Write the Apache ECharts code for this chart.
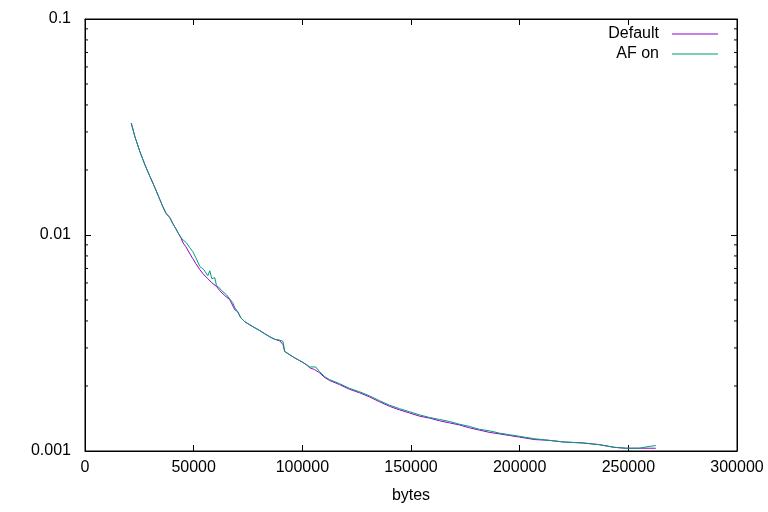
<!DOCTYPE html>
<html>
<head>
<meta charset="utf-8">
<script src="https://cdn.jsdelivr.net/npm/echarts@6/dist/echarts.min.js"></script>
<style>html,body{margin:0;padding:0;background:#fff}#c{width:768px;height:512px}</style>
</head>
<body>
<div id="c"></div>
<script>
// ---- data ----
const xTickLabels = ['0','50000','100000','150000','200000','250000','300000'];
const yTickLabels = ['0.001','0.01','0.1'];
const yMinorTicks = [0.002,0.003,0.004,0.005,0.006,0.007,0.008,0.009,0.02,0.03,0.04,0.05,0.06,0.07,0.08,0.09];

const afX = [21270,22970,25270,27560,29860,32160,34460,35830,37210,39050,40430,41810,42860,44560,46720,48240,49620,50990,52830,54670,56510,57430,58340,59720,60500,61560,62940,65100,66610,67990,68910,70290,71670,73500,75800,78100,80400,82690,84990,87290,89580,91100,91880,94180,96470,98770,100290,101990,103370,106120,107960,110260,112550,117150,121740,126340,130930,135520,140120,144710,149310,153900,158490,163090,167680,172280,176870,181460,186060,190650,195250,199840,206730,213620,220510,228920,236590,243480,248860,254970,259560,262640];
const afY = [0.0330,0.02851,0.02430,0.02115,0.01868,0.01656,0.01457,0.01352,0.01264,0.01202,0.01128,0.01069,0.01022,0.00961,0.00918,0.00873,0.00837,0.00785,0.00715,0.00691,0.00648,0.00683,0.00628,0.00634,0.00582,0.00573,0.00552,0.00529,0.00505,0.00486,0.00461,0.00441,0.00414,0.00397,0.00384,0.00372,0.00361,0.00349,0.00338,0.00329,0.00326,0.00322,0.00289,0.00279,0.00270,0.00262,0.00257,0.00251,0.00245,0.00245,0.00233,0.00221,0.00214,0.00205,0.00195,0.00188,0.00180,0.00171,0.00163,0.00157,0.00152,0.00147,0.00143,0.00140,0.00137,0.00133,0.00130,0.00126,0.00124,0.00121,0.00119,0.00117,0.00114,0.00112,0.00110,0.00109,0.00107,0.00104,0.00103,0.00103,0.00105,0.00106];

const defX = [21270,22970,25270,27560,29860,32160,34460,35830,37210,39050,40430,41810,42860,44100,45160,46400,48240,49620,50990,52830,54670,56510,58340,60500,62020,64320,66610,68910,70290,71670,73500,75800,78100,80400,82690,84990,87290,89580,91100,91880,94180,96470,98770,100290,101990,103370,105660,107960,110260,112550,117150,121740,126340,130930,135520,140120,144710,149310,153900,158490,163090,167680,172280,176870,181460,186060,190650,195250,199840,206730,213620,220510,228920,236590,243480,248860,254970,262640];
const defY = [0.0330,0.02851,0.02430,0.02115,0.01868,0.01656,0.01457,0.01352,0.01264,0.01202,0.01128,0.01069,0.01022,0.00972,0.00918,0.00883,0.00819,0.00777,0.00737,0.00691,0.00655,0.00628,0.00601,0.00578,0.00552,0.00524,0.00502,0.00451,0.00441,0.00414,0.00397,0.00384,0.00372,0.00361,0.00349,0.00338,0.00329,0.00324,0.00311,0.00289,0.00279,0.00270,0.00262,0.00257,0.00250,0.00243,0.00238,0.00230,0.00219,0.00212,0.00203,0.00193,0.00186,0.00178,0.00169,0.00161,0.00155,0.00150,0.00145,0.00142,0.00138,0.00135,0.00132,0.00128,0.00125,0.00122,0.00120,0.00118,0.00116,0.00113,0.00112,0.00110,0.00109,0.00107,0.00104,0.00103,0.00103,0.00103];

const seriesNames = ['Default','AF on'];
const seriesColors = ['#9400d3','#009e73'];

// ---- chart ----
const FONT = 'Liberation Sans, Arial, sans-serif';
const chart = echarts.init(document.getElementById('c'), null, {renderer:'canvas'});
const zip = (xs, ys) => xs.map((x, i) => [x, ys[i]]);
const fmtY = v => String(parseFloat(Number(v).toPrecision(3)));

const tickStyle = {show:true, inside:true, length:6, lineStyle:{color:'#000', width:1}};
const legendCommon = {
  orient:'vertical', right:50, padding:0, itemWidth:46, itemHeight:1,
  icon:'rect', align:'right', selectedMode:false,
  textStyle:{fontFamily:FONT, fontSize:16, color:'#000', padding:[0,8,0,0]}
};

chart.setOption({
  animation:false,
  backgroundColor:'#fff',
  grid:{left:85, right:31, top:19, bottom:61, show:true, borderColor:'#000', borderWidth:1, backgroundColor:'transparent'},
  legend:[
    Object.assign({}, legendCommon, {top:26, data:[seriesNames[0]]}),
    Object.assign({}, legendCommon, {top:46, data:[seriesNames[1]]})
  ],
  xAxis:[
    {type:'value', min:0, max:300000, interval:50000, position:'bottom',
     name:'bytes', nameLocation:'middle', nameGap:37,
     nameTextStyle:{fontFamily:FONT, fontSize:16, color:'#000'},
     axisLine:{show:true, onZero:false, lineStyle:{color:'#000', width:1}},
     axisTick:tickStyle, splitLine:{show:false},
     axisLabel:{fontFamily:FONT, fontSize:16, color:'#000', margin:9,
       formatter:(v)=>{ const i = Math.round(v/50000); return xTickLabels[i] !== undefined ? xTickLabels[i] : String(v); }}},
    {type:'value', min:0, max:300000, interval:50000, position:'top',
     axisLine:{show:true, onZero:false, lineStyle:{color:'#000', width:1}},
     axisTick:tickStyle, axisLabel:{show:false}, splitLine:{show:false}}
  ],
  yAxis:[
    {type:'log', logBase:10, min:0.001, max:0.1, position:'left',
     axisLine:{show:true, onZero:false, lineStyle:{color:'#000', width:1}},
     axisTick:tickStyle, splitLine:{show:false}, minorTick:{show:false},
     axisLabel:{fontFamily:FONT, fontSize:16, color:'#000', margin:14, formatter:fmtY}},
    {type:'log', logBase:10, min:0.001, max:0.1, position:'right',
     axisLine:{show:true, onZero:false, lineStyle:{color:'#000', width:1}},
     axisTick:tickStyle, splitLine:{show:false}, axisLabel:{show:false}}
  ],
  series:[
    {type:'custom', name:'minorTicks', xAxisIndex:0, yAxisIndex:0, clip:false, silent:true,
     data: yMinorTicks.map(v => [0, v]),
     encode:{x:0, y:1},
     renderItem:(params, api) => {
       const v = api.value(1);
       const pL = api.coord([0, v]);
       const pR = api.coord([300000, v]);
       const st = {stroke:'#000', lineWidth:1};
       return {type:'group', children:[
         {type:'line', shape:{x1:pL[0], y1:pL[1], x2:pL[0]+3, y2:pL[1]}, style:st},
         {type:'line', shape:{x1:pR[0]-3, y1:pR[1], x2:pR[0], y2:pR[1]}, style:st}
       ]};
     }},
    {type:'line', name:seriesNames[0], data:zip(defX, defY), symbol:'none', showSymbol:false,
     lineStyle:{color:seriesColors[0], width:1}, itemStyle:{color:seriesColors[0]}},
    {type:'line', name:seriesNames[1], data:zip(afX, afY), symbol:'none', showSymbol:false,
     lineStyle:{color:seriesColors[1], width:1}, itemStyle:{color:seriesColors[1]}}
  ]
});
</script>
</body>
</html>
